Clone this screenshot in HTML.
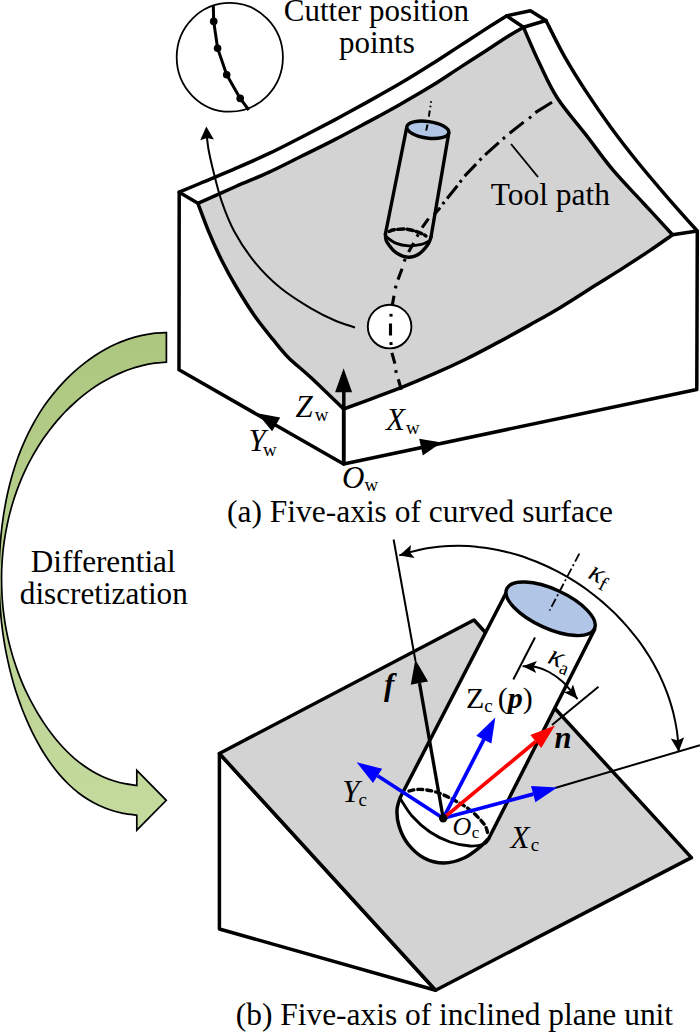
<!DOCTYPE html>
<html><head><meta charset="utf-8"><title>Five-axis machining diagram</title>
<style>
html,body{margin:0;padding:0;background:#fff;}
body{width:700px;height:1034px;overflow:hidden;}
svg{display:block;}
text{font-family:"Liberation Serif",serif;fill:#000;}
.it{font-style:italic;}
.bi{font-style:italic;font-weight:bold;}
</style></head>
<body>
<svg width="700" height="1034" viewBox="0 0 700 1034">
<defs>
<linearGradient id="gg" x1="0" y1="0" x2="0" y2="1">
<stop offset="0" stop-color="#adc77f"/><stop offset="0.5" stop-color="#b9d190"/><stop offset="1" stop-color="#c5db9f"/>
</linearGradient>
</defs>
<rect width="700" height="1034" fill="#fff"/>

<g id="blockA" stroke="#000" stroke-width="3.5" stroke-linejoin="round" stroke-linecap="round">
<path d="M179.2,192.2 C183.1,190.5 193.5,186.2 202.9,182.2 C212.3,178.2 224.8,173.2 235.7,168.4 C246.6,163.7 257.7,158.9 268.6,153.7 C279.6,148.5 290.4,142.8 301.4,137.2 C312.3,131.6 323.3,125.9 334.3,120.1 C345.3,114.2 356.2,108.2 367.2,102.1 C378.1,96.0 389.3,89.9 400.0,83.6 C410.7,77.3 421.9,70.3 431.4,64.3 C440.9,58.3 448.5,53.2 457.1,47.6 C465.7,42.0 474.7,36.2 482.9,30.9 C491.1,25.6 502.6,18.4 506.5,15.9 L530.4,10.8 L546,20.5 C549.0,26.4 557.6,44.3 564.3,56.1 C571.0,67.9 578.3,79.6 586.0,91.4 C593.7,103.2 601.8,114.9 610.4,126.7 C619.0,138.5 628.1,150.2 637.6,162.0 C647.1,173.8 657.5,185.8 667.4,197.3 C677.3,208.8 692.3,225.4 697.3,231.0 L696.8,389.5 L343.6,464 L179,369.8 Z" fill="#fff"/>
<path d="M197.9,203.3 C204.2,200.5 223.9,191.7 235.7,186.5 C247.5,181.3 257.7,177.4 268.6,172.4 C279.6,167.4 290.4,161.7 301.4,156.3 C312.3,150.9 323.3,145.6 334.3,139.9 C345.3,134.2 356.2,128.3 367.2,122.4 C378.1,116.5 389.3,110.5 400.0,104.4 C410.7,98.4 421.9,91.9 431.4,86.1 C440.9,80.3 448.5,75.0 457.1,69.4 C465.7,63.8 474.3,58.3 482.9,52.7 C491.5,47.1 501.8,40.2 508.6,36.0 C515.4,31.8 521.0,28.8 523.5,27.3 C526.2,33.5 534.2,52.5 539.9,64.3 C545.6,76.1 549.8,86.4 557.5,98.2 C565.2,110.0 576.7,122.9 586.0,134.9 C595.3,146.9 603.6,158.9 613.1,170.2 C622.6,181.5 633.1,191.9 643.0,202.7 C652.9,213.5 667.6,229.5 672.5,234.8 C668.5,237.6 656.9,245.8 648.6,251.4 C640.3,256.9 631.5,262.6 622.9,268.1 C614.3,273.6 607.6,277.7 597.1,284.3 C586.6,290.9 571.4,300.8 560.0,307.7 C548.6,314.6 539.1,319.7 528.6,325.6 C518.1,331.5 507.6,337.3 497.1,342.9 C486.6,348.5 476.2,354.1 465.7,359.2 C455.2,364.3 444.8,369.1 434.3,373.7 C423.8,378.3 413.4,382.7 402.9,386.9 C392.4,391.1 381.3,395.1 371.4,398.8 C361.5,402.5 348.2,407.3 343.6,409.0 C338.2,403.8 320.6,386.6 311.4,378.0 C302.2,369.4 294.7,363.8 288.3,357.4 C281.9,351.0 278.5,346.2 272.9,339.4 C267.3,332.5 260.9,324.9 254.9,316.3 C248.9,307.7 242.5,297.4 236.9,288.0 C231.3,278.6 226.1,269.1 221.4,259.7 C216.7,250.3 212.5,240.8 208.6,231.4 C204.7,222.0 199.7,208.0 197.9,203.3 Z" fill="#d3d3d3"/>
<path d="M506.5,15.9 L523.5,27.3 L546,20.5 M672.5,234.8 L697.3,231 M179.2,192.2 L197.9,203.3 M343.6,409 L343.6,464" fill="none"/>
</g>
<g id="blockB" stroke="#000" stroke-width="3.5" stroke-linejoin="round">
<path d="M219.4,753.5 L435.6,990.2 L219.4,929 Z" fill="#fff"/>
<path d="M219.4,753.5 L474,620 L691.4,857.6 L435.6,990.2 Z" fill="#d3d3d3"/>
</g>
<path d="M166.4,332.6 C164.2,332.7 157.7,332.9 153.4,333.4 C149.1,333.9 144.8,334.7 140.7,335.6 C136.5,336.6 132.4,337.8 128.3,339.1 C124.3,340.5 120.3,342.0 116.4,343.8 C112.5,345.5 108.7,347.4 105.0,349.5 C101.2,351.6 97.6,353.8 94.0,356.2 C90.4,358.6 87.0,361.1 83.6,363.8 C80.2,366.4 76.9,369.2 73.7,372.1 C70.6,375.0 67.5,378.0 64.5,381.1 C61.6,384.2 58.7,387.3 56.0,390.6 C53.2,393.8 50.6,397.2 48.1,400.6 C45.6,403.9 43.2,407.4 40.9,410.9 C38.6,414.5 36.5,418.1 34.4,421.7 C32.3,425.4 30.4,429.1 28.5,432.8 C26.6,436.6 24.9,440.4 23.2,444.3 C21.5,448.1 20.0,452.1 18.5,456.0 C17.0,460.0 15.7,464.0 14.4,468.0 C13.1,472.1 11.9,476.2 10.8,480.3 C9.7,484.4 8.7,488.5 7.7,492.7 C6.8,496.9 5.9,501.1 5.2,505.3 C4.4,509.5 3.7,513.8 3.1,518.1 C2.5,522.3 1.9,526.6 1.5,530.9 C1.0,535.2 0.6,539.5 0.3,543.8 C-0.0,548.1 -0.3,552.5 -0.5,556.8 C-0.7,561.1 -0.8,565.5 -0.9,569.8 C-0.9,574.1 -0.9,578.5 -0.9,582.8 C-0.8,587.1 -0.7,591.4 -0.5,595.7 C-0.3,600.0 -0.0,604.3 0.3,608.6 C0.6,612.9 1.0,617.2 1.4,621.4 C1.9,625.7 2.4,629.9 3.0,634.2 C3.6,638.4 4.3,642.6 5.0,646.8 C5.8,651.0 6.6,655.2 7.5,659.4 C8.4,663.6 9.3,667.7 10.4,671.9 C11.4,676.0 12.5,680.1 13.7,684.2 C14.9,688.3 16.2,692.4 17.6,696.4 C19.0,700.5 20.4,704.5 21.9,708.5 C23.5,712.5 25.1,716.4 26.8,720.4 C28.5,724.3 30.3,728.2 32.2,732.1 C34.1,735.9 36.1,739.8 38.2,743.5 C40.2,747.3 42.4,751.0 44.7,754.5 C47.0,758.1 49.4,761.7 51.9,765.0 C54.4,768.4 57.0,771.7 59.7,774.9 C62.5,778.1 65.3,781.1 68.3,784.0 C71.3,786.9 74.4,789.6 77.6,792.2 C80.9,794.7 84.2,797.1 87.7,799.3 C91.2,801.5 94.9,803.5 98.7,805.3 C102.5,807.1 106.4,808.7 110.5,810.0 C114.5,811.4 118.8,812.5 123.2,813.4 C127.6,814.2 134.5,814.9 136.8,815.2 L136.8,830.2 L166.3,800.3 L136.8,770.4 L136.8,785.4 C134.8,785.1 128.7,784.5 124.8,783.7 C120.9,783.0 117.2,782.0 113.5,780.8 C109.8,779.6 106.2,778.2 102.8,776.7 C99.3,775.1 96.0,773.4 92.7,771.5 C89.4,769.6 86.3,767.5 83.2,765.3 C80.2,763.1 77.2,760.7 74.3,758.3 C71.5,755.8 68.7,753.2 66.0,750.5 C63.3,747.8 60.7,744.9 58.2,742.0 C55.7,739.1 53.3,736.1 51.0,733.0 C48.7,729.9 46.4,726.8 44.3,723.6 C42.1,720.4 40.0,717.1 38.0,713.8 C36.0,710.5 34.1,707.1 32.3,703.7 C30.4,700.3 28.7,696.9 27.0,693.4 C25.3,689.9 23.7,686.4 22.2,682.8 C20.7,679.3 19.3,675.7 18.0,672.1 C16.6,668.4 15.4,664.8 14.2,661.1 C13.0,657.4 11.9,653.7 10.9,649.9 C9.9,646.2 8.9,642.4 8.1,638.7 C7.2,634.9 6.5,631.1 5.8,627.3 C5.1,623.5 4.5,619.6 4.0,615.8 C3.5,611.9 3.0,608.1 2.7,604.2 C2.3,600.3 2.0,596.5 1.9,592.6 C1.7,588.7 1.6,584.8 1.6,580.9 C1.5,577.1 1.6,573.2 1.7,569.3 C1.9,565.4 2.1,561.5 2.4,557.7 C2.7,553.8 3.1,549.9 3.6,546.1 C4.1,542.2 4.7,538.4 5.3,534.6 C6.0,530.8 6.7,527.0 7.5,523.2 C8.3,519.4 9.2,515.6 10.2,511.9 C11.2,508.2 12.2,504.5 13.4,500.8 C14.5,497.1 15.8,493.5 17.1,489.9 C18.4,486.3 19.8,482.7 21.3,479.1 C22.8,475.6 24.4,472.1 26.0,468.6 C27.7,465.2 29.4,461.8 31.3,458.4 C33.1,455.0 35.0,451.7 37.0,448.5 C39.0,445.2 41.1,442.0 43.2,438.8 C45.4,435.7 47.7,432.6 50.0,429.5 C52.3,426.5 54.7,423.5 57.2,420.6 C59.8,417.7 62.3,414.8 65.0,412.0 C67.7,409.3 70.4,406.6 73.3,404.0 C76.1,401.4 79.0,398.8 82.0,396.4 C85.0,394.0 88.1,391.6 91.2,389.4 C94.3,387.2 97.5,385.1 100.8,383.1 C104.1,381.1 107.4,379.2 110.8,377.4 C114.2,375.7 117.7,374.1 121.2,372.6 C124.8,371.1 128.4,369.7 132.0,368.5 C135.7,367.4 139.4,366.3 143.2,365.4 C146.9,364.5 150.8,363.8 154.6,363.2 C158.5,362.7 164.4,362.3 166.4,362.1 Z" fill="url(#gg)" stroke="#000" stroke-width="1.7" stroke-linejoin="miter"/>
<ellipse cx="229.8" cy="57.3" rx="53.1" ry="54.4" fill="#fff" stroke="#000" stroke-width="1.8"/>
<path d="M213.3,5.5 L213.7,21.4 L217.6,48.3 L226.7,74.8 L240.2,98.4 L248.8,110.0" fill="none" stroke="#000" stroke-width="3" stroke-linejoin="round"/>
<circle cx="213.7" cy="21.4" r="3.8" fill="#000"/>
<circle cx="217.6" cy="48.3" r="3.8" fill="#000"/>
<circle cx="226.7" cy="74.8" r="3.8" fill="#000"/>
<circle cx="240.2" cy="98.4" r="3.8" fill="#000"/>
<path d="M206.8,136.0 C207.1,138.3 207.6,144.6 208.6,150.0 C209.6,155.4 210.6,160.0 212.7,168.4 C214.8,176.8 217.8,190.1 221.4,200.6 C225.0,211.1 228.7,221.1 234.3,231.4 C239.9,241.7 247.2,252.9 254.9,262.3 C262.6,271.7 271.2,280.3 280.6,288.0 C290.0,295.7 302.3,303.2 311.4,308.6 C320.5,314.0 327.7,317.4 335.0,320.5 C342.3,323.6 351.7,326.3 355.0,327.5 " fill="none" stroke="#000" stroke-width="2"/>
<path d="M206.3,126.4 L213.9,139.5 L206.9,137.9 L200.2,140.3 Z" fill="#000"/>
<path d="M552.0,102.3 L535.3,112.6 M531.2,116.6 L529.0,118.4 M523.7,122.1 L509.6,133.2 M505.0,137.2 L502.8,139.0 M498.8,142.7 L485.1,154.8 M481.5,158.4 L479.5,160.4 M476.1,164.1 L464.6,176.1 M461.5,180.2 L459.9,182.4 M457.4,185.7 L447.1,198.5 M444.3,202.0 L442.7,204.2 M440.1,207.8 L434.0,214.8 M428.5,218.6 L422.1,227.6 M418.3,234.2 L416.9,236.6 M413.7,243.1 L408.6,252.1 M405.2,258.9 L404.2,261.5 M402.1,268.8 L398.0,279.6 M396.0,285.6 L395.4,288.4 M394.0,295.7 L392.2,305.8 " fill="none" stroke="#000" stroke-width="3.1"/>
<circle cx="389.6" cy="326.6" r="21.8" fill="#fff" stroke="#000" stroke-width="1.9"/>
<path d="M391.1,313.8 L390.9,316.6 M390.5,323.6 L390.5,335.4 M390.9,342.2 L391.1,345.0 M391.9,352.9 L394.9,363.7 M395.7,370.1 L396.3,372.9 M398.3,379.3 L401.3,389.8 " fill="none" stroke="#000" stroke-width="3.1"/>
<path d="M511,144 L538,177" stroke="#000" stroke-width="1.9"/>
<g id="toolA" stroke="#000" stroke-width="3.4" fill="none" stroke-linecap="round">
<path d="M406.6,128 L385.4,234 M448.8,133 L431,237"/>
<path d="M385.4,234.0 C385.5,235.0 385.4,238.1 386.0,240.0 C386.6,241.9 388.1,243.8 389.3,245.5 C390.6,247.2 392.0,249.1 393.5,250.5 C395.0,251.9 396.6,253.0 398.3,254.0 C400.0,255.0 401.8,255.8 403.5,256.3 C405.2,256.8 406.9,257.2 408.6,257.2 C410.4,257.2 412.3,256.8 414.0,256.3 C415.7,255.8 417.4,255.0 418.9,254.0 C420.4,253.0 421.7,251.8 423.0,250.5 C424.3,249.2 425.5,247.8 426.6,246.3 C427.7,244.8 428.8,243.1 429.5,241.5 C430.2,239.9 430.8,237.8 431.0,237.0 "/>
<path d="M386.0,236.5 C387.6,237.6 391.9,241.5 395.7,243.1 C399.5,244.7 404.3,245.6 408.6,245.8 C412.9,246.0 418.0,245.2 421.4,244.4 C424.8,243.6 427.7,241.6 429.0,241.0 " stroke-width="2.8"/>
<path d="M389.0,231.5 C389.8,231.2 391.2,230.2 393.8,229.8 C396.4,229.4 401.4,228.9 404.7,229.1 C408.0,229.2 410.7,229.9 413.7,230.7 C416.7,231.5 420.6,233.1 422.7,234.0 C424.8,234.9 425.4,235.7 426.0,236.0 " stroke-dasharray="6,3.2"/>
<ellipse cx="427.8" cy="129.8" rx="21.2" ry="8.3" transform="rotate(8 427.8 129.8)" fill="#b1c6e7"/>
</g>
<path d="M431.2,101.2 L430.9,102.8 M430.6,105.7 L430.3,107.3 M429.8,110.5 L428.8,116.6 M427.5,124.5 L426.2,130.6" stroke="#000" stroke-width="2" fill="none"/>
<g stroke="#000" stroke-width="3.5" fill="none">
<path d="M343.8,464 L343.8,385"/>
</g>
<path d="M343.6,368.2 L352.1,392.2 L343.6,392.2 L335.1,392.2 Z" fill="#000"/>
<path d="M257.2,413.2 L280.2,417.5 L276.2,424.4 L272.1,431.2 Z" fill="#000"/>
<path d="M441.5,442.6 L422.8,455.4 L421.0,447.1 L419.2,438.8 Z" fill="#000"/>
<g id="toolB" stroke="#000" stroke-width="3.5" stroke-linecap="round" stroke-linejoin="round">
<path d="M506.8,591.5 L400,798 C399.5,800.0 397.2,805.3 397.0,810.0 C396.8,814.7 397.2,820.3 399.0,826.0 C400.8,831.7 403.8,838.7 408.0,844.0 C412.2,849.3 418.0,854.8 424.0,858.0 C430.0,861.2 437.3,863.0 444.0,863.0 C450.7,863.0 458.0,860.7 464.0,858.0 C470.0,855.3 475.8,850.3 480.0,847.0 C484.2,843.7 487.5,839.5 489.0,838.0 L594.6,629.5 Z" fill="#fff"/>
<path d="M400.5,799.0 C402.4,801.8 407.1,810.5 412.0,816.0 C416.9,821.5 423.7,827.7 430.0,832.0 C436.3,836.3 443.3,839.7 450.0,842.0 C456.7,844.3 464.3,845.7 470.0,846.0 C475.7,846.3 480.8,845.2 484.0,844.0 C487.2,842.8 488.2,839.8 489.0,839.0 " fill="none" stroke-width="2.8"/>
<path d="M409.0,791.0 C410.8,790.7 415.5,789.2 420.0,789.4 C424.5,789.6 430.3,790.2 436.0,792.0 C441.7,793.8 448.3,797.0 454.0,800.0 C459.7,803.0 465.0,806.0 470.0,810.0 C475.0,814.0 481.0,820.0 484.0,824.0 C487.0,828.0 487.3,832.3 488.0,834.0 " fill="none" stroke-dasharray="5,4" stroke-width="3.4"/>
<ellipse cx="550.6" cy="608.8" rx="48.2" ry="19.6" stroke-width="3.4" transform="rotate(24.5 550.6 608.8)" fill="#b1c6e7"/>
</g>
<path d="M579.3,553.6 L549.6,610.5" stroke="#000" stroke-width="1.8" stroke-dasharray="9,3,2,3" fill="none"/>
<g stroke="#000" stroke-width="2" fill="none">
<path d="M393.6,539.5 L415.5,661"/>
<path d="M552,725 L598.5,686.8"/>
<path d="M555,788 L700,745.2"/>
<path d="M535,637.5 L513.3,679.5"/>
</g>
<path d="M443.2,818.3 L419.5,683.1" stroke="#000" stroke-width="3.3"/>
<path d="M415.3,659.5 L428.1,681.6 L419.5,683.1 L410.8,684.7 Z" fill="#000"/>
<path d="M443.2,818.3 L377.6,775.8" stroke="#0000ff" stroke-width="3.7"/>
<path d="M356.6,762.2 L382.2,768.7 L377.6,775.8 L373.0,782.9 Z" fill="#0000ff"/>
<path d="M443.2,818.3 L533.2,794.1" stroke="#0000ff" stroke-width="3.7"/>
<path d="M557.3,787.6 L535.4,802.3 L533.2,794.1 L531.0,785.9 Z" fill="#0000ff"/>
<path d="M443.2,818.3 L483.8,739.7" stroke="#0000ff" stroke-width="3.7"/>
<path d="M495.3,717.5 L491.4,743.6 L483.8,739.7 L476.3,735.8 Z" fill="#0000ff"/>
<path d="M443.2,818.3 L535.8,741.5" stroke="#ff0000" stroke-width="3.7"/>
<path d="M555.0,725.5 L541.2,748.0 L535.8,741.5 L530.3,734.9 Z" fill="#ff0000"/>
<circle cx="443.2" cy="818.3" r="4.2" fill="#000"/>
<path d="M399.3,555.4 C400.9,554.9 405.8,553.3 409.0,552.4 C412.2,551.5 415.5,550.7 418.8,550.0 C422.0,549.3 425.3,548.6 428.6,548.1 C431.9,547.6 435.2,547.2 438.5,546.8 C441.8,546.5 445.1,546.2 448.4,546.0 C451.7,545.9 455.0,545.8 458.3,545.8 C461.7,545.8 465.0,545.9 468.3,546.1 C471.6,546.3 474.9,546.5 478.2,546.9 C481.4,547.2 484.7,547.7 488.0,548.2 C491.3,548.7 494.6,549.3 497.8,549.9 C501.1,550.6 504.3,551.3 507.5,552.2 C510.7,553.0 514.0,553.9 517.1,554.8 C520.3,555.8 523.5,556.8 526.7,558.0 C529.8,559.1 532.9,560.3 536.0,561.5 C539.2,562.8 542.2,564.1 545.3,565.5 C548.3,566.9 551.4,568.3 554.4,569.8 C557.4,571.3 560.3,572.9 563.3,574.6 C566.2,576.2 569.1,577.9 572.0,579.7 C574.8,581.5 577.7,583.3 580.5,585.2 C583.3,587.1 586.0,589.0 588.7,591.0 C591.4,593.1 594.1,595.1 596.7,597.2 C599.4,599.3 601.9,601.5 604.5,603.7 C607.0,606.0 609.5,608.2 611.9,610.6 C614.4,612.9 616.8,615.3 619.1,617.7 C621.4,620.1 623.7,622.6 625.9,625.1 C628.2,627.6 630.3,630.2 632.4,632.8 C634.6,635.4 636.6,638.0 638.6,640.7 C640.6,643.4 642.5,646.1 644.4,648.9 C646.2,651.7 648.0,654.5 649.8,657.3 C651.5,660.2 653.2,663.1 654.8,666.0 C656.4,668.9 657.9,671.9 659.4,674.8 C660.8,677.8 662.2,680.9 663.5,683.9 C664.8,687.0 666.0,690.0 667.2,693.2 C668.3,696.3 669.4,699.4 670.4,702.6 C671.4,705.7 672.3,708.9 673.1,712.1 C673.9,715.4 674.6,718.6 675.3,721.9 C675.9,725.1 676.5,728.4 677.0,731.7 C677.4,735.0 677.8,738.4 678.1,741.7 C678.4,745.1 678.6,750.1 678.7,751.8 " stroke="#000" stroke-width="2" fill="none"/>
<path d="M399.3,555.4 L411.0,545.1 L410.1,552.4 L414.6,558.1 Z" fill="#000"/>
<path d="M678.7,751.8 L670.8,738.4 L677.7,740.6 L684.2,737.3 Z" fill="#000"/>
<path d="M522.6,666.2 C524.8,666.3 531.6,666.0 536.0,667.0 C540.4,668.0 544.5,669.5 549.0,672.0 C553.5,674.5 558.2,677.5 563.0,682.0 C567.8,686.5 575.1,696.2 577.5,699.0 " stroke="#000" stroke-width="2" fill="none"/>
<path d="M522.6,666.2 L536.9,661.0 L533.5,666.9 L536.2,673.0 Z" fill="#000"/>
<path d="M577.5,699.0 L563.8,692.2 L570.4,690.7 L573.0,684.5 Z" fill="#000"/>
<text x="376.4" y="21.4" font-size="31" class="" text-anchor="middle" >Cutter position</text>
<text x="376.9" y="52.7" font-size="31" class="" text-anchor="middle" >points</text>
<text x="550.4" y="205.4" font-size="31.5" class="" text-anchor="middle" >Tool path</text>
<text x="420" y="521.5" font-size="31.45" class="" text-anchor="middle" >(a) Five-axis of curved surface</text>
<text x="454.4" y="1025.4" font-size="31.45" class="" text-anchor="middle" >(b) Five-axis of inclined plane unit</text>
<text x="103.2" y="572" font-size="31.2" class="" text-anchor="middle" >Differential</text>
<text x="103.8" y="603.5" font-size="31.2" class="" text-anchor="middle" >discretization</text>
<text x="295.5" y="417" font-size="31" class="it">Z</text>
<text x="314.8" y="421" font-size="19">w</text>
<text x="248.5" y="451" font-size="31" class="it">Y</text>
<text x="263" y="456" font-size="19">w</text>
<text x="386" y="429.6" font-size="31" class="it">X</text>
<text x="406" y="434.3" font-size="19">w</text>
<text x="342" y="488.3" font-size="31" class="it">O</text>
<text x="364.5" y="491.2" font-size="19">w</text>
<text x="342.3" y="802.3" font-size="31" class="it">Y</text>
<text x="358.4" y="805.9" font-size="19">c</text>
<text x="510.5" y="847.5" font-size="31" class="it">X</text>
<text x="530.7" y="850.6" font-size="19">c</text>
<text x="452.5" y="835" font-size="26" class="it">O</text>
<text x="471.8" y="838" font-size="17">c</text>
<text x="466" y="708" font-size="30">Z<tspan font-size="19" dy="4">c</tspan><tspan dy="-4" dx="-2.5"> (</tspan><tspan class="bi">p</tspan>)</text>
<text x="384" y="694.5" font-size="31" class="bi" text-anchor="start" >f</text>
<text x="554.5" y="748" font-size="30.5" class="bi" text-anchor="start" >n</text>
<text x="587" y="577.5" font-size="29" transform="rotate(27 587 577.5)"><tspan class="it">κ</tspan><tspan font-size="20" dy="5">f</tspan></text>
<text x="546.5" y="662.5" font-size="30" transform="rotate(22 546.5 662.5)"><tspan class="it">κ</tspan><tspan font-size="19" dy="5">a</tspan></text>
</svg>
</body></html>
